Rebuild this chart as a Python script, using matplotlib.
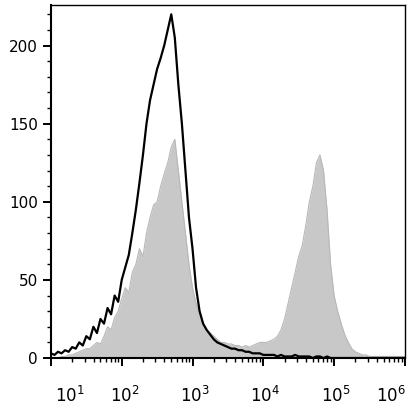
import numpy as np
import matplotlib
matplotlib.use("Agg")
import matplotlib.pyplot as plt
from matplotlib.ticker import MultipleLocator, LogLocator, NullFormatter

# bin centres, 0.05 decade steps from 10^1 to 10^6
decades = np.linspace(1.0, 6.0, 101)

control = [3, 2, 4, 3, 5, 4, 7, 6, 10, 8, 14,
           12, 20, 16, 25, 22, 32, 28, 40, 36, 50,
           58, 66, 80, 95, 112, 130, 150, 165, 175, 185,
           192, 200, 210, 220, 205, 175, 150, 120, 90, 70,
           45, 30, 22, 18, 15, 12, 10, 9, 8, 7,
           6, 6, 5, 5, 4, 4, 3, 3, 3, 2,
           2, 2, 2, 1, 2, 1, 1, 1, 2, 1,
           1, 1, 1, 0, 1, 1, 0, 1, 0, 0] + [0] * 20

stained = [0, 0, 0, 1, 1, 2, 2, 3, 4, 5, 6,
           6, 8, 10, 9, 14, 20, 18, 26, 30, 38,
           45, 42, 55, 60, 70, 65, 80, 90, 98, 100,
           110, 118, 125, 135, 140, 120, 100, 80, 60, 45,
           35, 28, 22, 18, 16, 14, 12, 10, 10, 9,
           9, 8, 8, 7, 8, 7, 8, 9, 10, 10,
           10, 11, 12, 14, 18, 25, 35, 45, 55, 65,
           72, 85, 100, 110, 125, 130, 120, 95, 60, 40,
           30, 22, 15, 10, 6, 4, 3, 2, 2, 1,
           1, 1, 1, 1, 1, 1, 1, 1, 1, 1]

tick_labels = ["1", "2", "3", "4", "5", "6"]
label_pos = [1.27, 2.05, 3.04, 4.03, 5.02, 5.80]

x = 10 ** decades

fig = plt.figure(figsize=(4.14, 4.12), dpi=100)
ax = fig.add_axes([0.123, 0.131, 0.855, 0.857])
ax.fill_between(x, stained, color="#c8c8c8", linewidth=0, zorder=1)
ax.plot(x, stained, color="#b8b8b8", lw=0.8, zorder=2)
ax.plot(x, control, color="black", lw=1.6, zorder=3)

ax.set_xscale("log")
ax.set_xlim(10, 1e6)
ax.set_ylim(0, 226)
ax.xaxis.set_major_locator(LogLocator(base=10, numticks=10))
ax.xaxis.set_minor_locator(LogLocator(base=10, subs=np.arange(2, 10), numticks=20))
ax.xaxis.set_major_formatter(NullFormatter())
ax.xaxis.set_minor_formatter(NullFormatter())
ax.yaxis.set_major_locator(MultipleLocator(50))
ax.yaxis.set_minor_locator(MultipleLocator(10))
ax.tick_params(which="major", direction="out", length=6, width=1.4, labelsize=11)
ax.tick_params(which="minor", direction="out", length=3, width=1.0)
for s in ax.spines.values():
    s.set_linewidth(1.0)
ax.spines["left"].set_linewidth(1.5)
ax.spines["bottom"].set_linewidth(1.5)

for e, p in zip(tick_labels, label_pos):
    ax.text(10 ** p, -24, r"10$^{%s}$" % e, ha="center", va="center",
            fontsize=12, transform=ax.transData, clip_on=False)

fig.savefig("out.png", dpi=100, facecolor="white")
